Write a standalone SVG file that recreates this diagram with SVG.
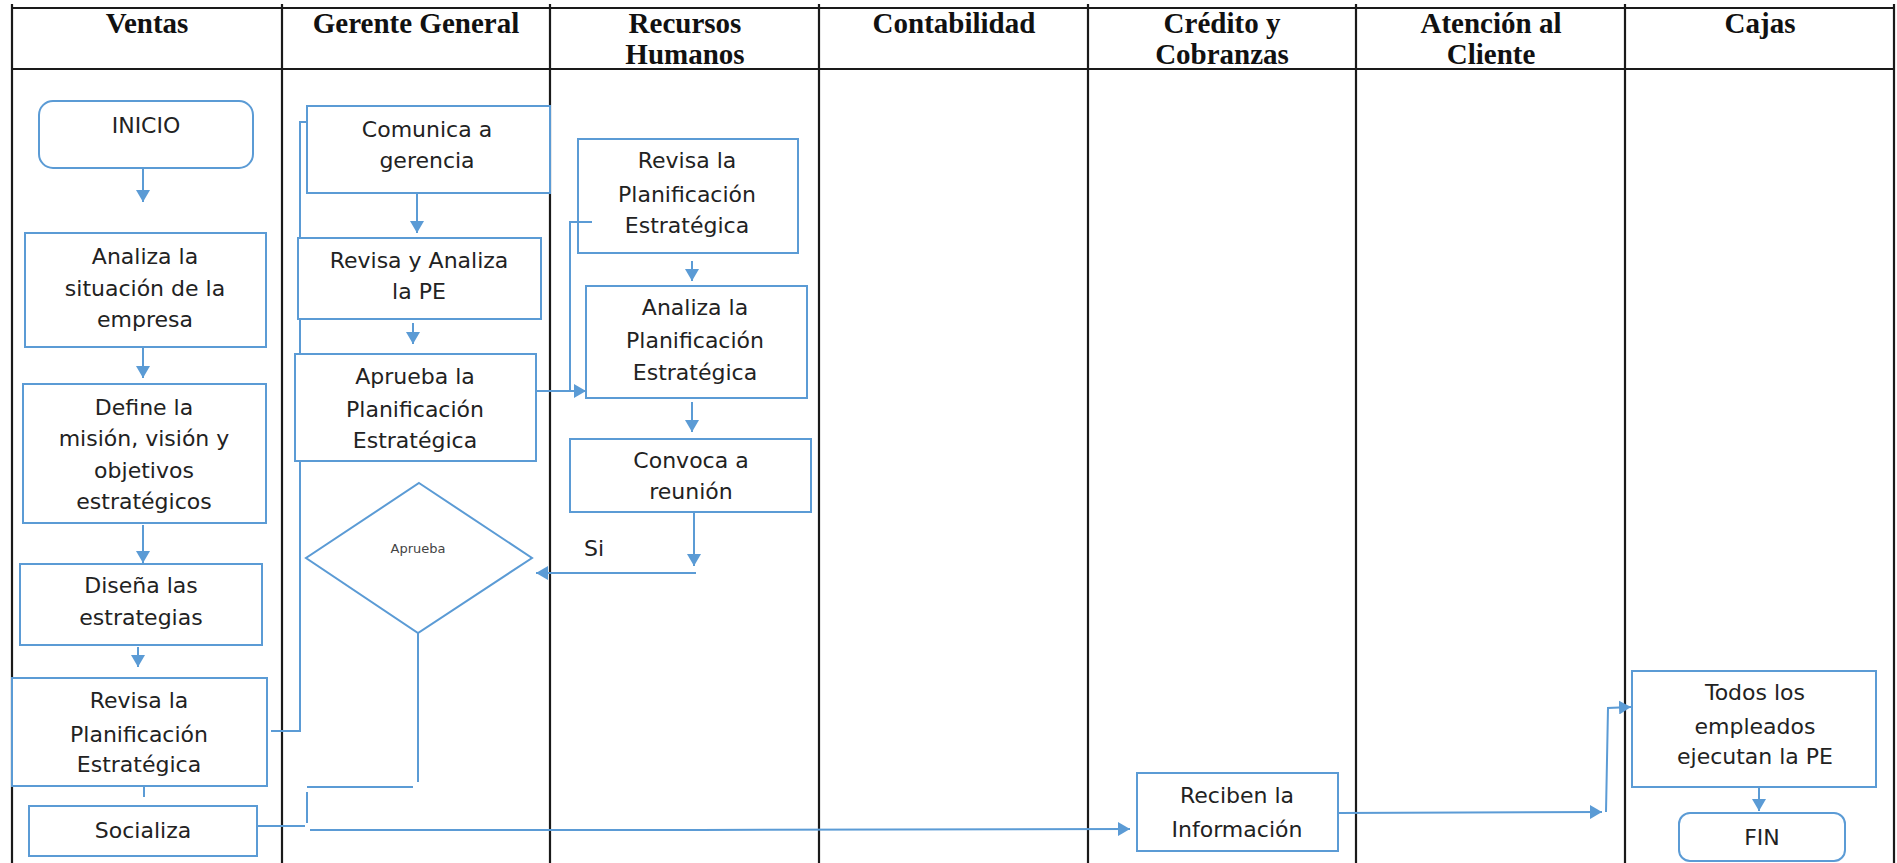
<svg xmlns="http://www.w3.org/2000/svg" width="1897" height="863" viewBox="0 0 1897 863">
  <style>
    .lane { stroke: #1a1a1a; stroke-width: 2.2; fill: none; }
    .hdr { font-family: "Liberation Serif", "Times New Roman", serif; font-weight: bold; font-size: 29px; fill: #111; text-anchor: middle; }
    .box { fill: #fff; stroke: #5B9BD5; stroke-width: 2; }
    .open { fill: none; stroke: #5B9BD5; stroke-width: 2; }
    .txt { font-family: "DejaVu Sans", Verdana, sans-serif; font-size: 22px; fill: #222; text-anchor: middle; }
    .small { font-family: "DejaVu Sans", Verdana, sans-serif; font-size: 13px; fill: #444; text-anchor: middle; }
    .con { fill: none; stroke: #5B9BD5; stroke-width: 2; }
    .arr { marker-end: url(#ah); }
  </style>
  <defs>
    <marker id="ah" markerUnits="userSpaceOnUse" markerWidth="12" markerHeight="14" refX="12" refY="7" orient="auto">
      <path d="M0,0 L12,7 L0,14 z" fill="#5B9BD5"/>
    </marker>
  </defs>

  <rect width="1897" height="863" fill="#fff"/>

  <!-- swimlane grid -->
  <g id="lanes">
    <line class="lane" x1="12" y1="8" x2="1894" y2="8"/>
    <line class="lane" x1="12" y1="69" x2="1894" y2="69"/>
    <line class="lane" x1="12" y1="4" x2="12" y2="863"/>
    <line class="lane" x1="282" y1="4" x2="282" y2="863"/>
    <line class="lane" x1="550" y1="4" x2="550" y2="863"/>
    <line class="lane" x1="819" y1="4" x2="819" y2="863"/>
    <line class="lane" x1="1088" y1="4" x2="1088" y2="863"/>
    <line class="lane" x1="1356" y1="4" x2="1356" y2="863"/>
    <line class="lane" x1="1625" y1="4" x2="1625" y2="863"/>
    <line class="lane" x1="1894" y1="4" x2="1894" y2="863"/>
  </g>

  <!-- lane titles -->
  <g id="headers">
    <text class="hdr" x="147" y="33">Ventas</text>
    <text class="hdr" x="416" y="33">Gerente General</text>
    <text class="hdr" x="685" y="33">Recursos</text>
    <text class="hdr" x="685" y="64">Humanos</text>
    <text class="hdr" x="954" y="33">Contabilidad</text>
    <text class="hdr" x="1222" y="33">Crédito y</text>
    <text class="hdr" x="1222" y="64">Cobranzas</text>
    <text class="hdr" x="1491" y="33">Atención al</text>
    <text class="hdr" x="1491" y="64">Cliente</text>
    <text class="hdr" x="1760" y="33">Cajas</text>
  </g>

  <!-- connectors -->
  <g id="connectors">
    <path class="con arr" d="M143,169 V202"/>
    <path class="con arr" d="M143,348 V378"/>
    <path class="con arr" d="M143,525 V563"/>
    <path class="con arr" d="M138,647 V667"/>
    <path class="con" d="M144,787 V797"/>
    <!-- Revisa (Ventas) up to Comunica -->
    <path class="con" d="M271,731 H300 V461"/>
    <path class="con" d="M300,354 V319"/>
    <path class="con" d="M300,238 V122 H307"/>
    <path class="con arr" d="M417,193 V233"/>
    <path class="con arr" d="M413,323 V344"/>
    <!-- Aprueba to Analiza, with branch from Revisa (RH) -->
    <path class="con arr" d="M536,391 H586"/>
    <path class="con" d="M592,222 H570 V392"/>
    <path class="con arr" d="M692,261 V281"/>
    <path class="con arr" d="M692,402 V432"/>
    <path class="con arr" d="M694,513 V566"/>
    <path class="con arr" d="M696,573 H536"/>
    <!-- from decision down to Socializa line -->
    <path class="con" d="M418,633 V782"/>
    <path class="con" d="M307,787 H413"/>
    <path class="con" d="M307,792 V823"/>
    <path class="con" d="M257,826 H305"/>
    <path class="con arr" d="M310,830 L700,830 L1130,829"/>
    <!-- Reciben to Todos -->
    <path class="con arr" d="M1338,813 L1602,812"/>
    <path class="con arr" d="M1606,812 L1608,708 L1631,707"/>
    <path class="con arr" d="M1759,788 V811"/>
  </g>

  <!-- Ventas -->
  <g id="inicio">
    <rect class="box" x="39" y="101" width="214" height="67" rx="14"/>
    <text class="txt" x="146" y="133">INICIO</text>
  </g>
  <g id="analiza-situacion">
    <rect class="box" x="25" y="233" width="241" height="114"/>
    <text class="txt" x="145" y="264">Analiza la</text>
    <text class="txt" x="145" y="296">situación de la</text>
    <text class="txt" x="145" y="327">empresa</text>
  </g>
  <g id="define-mision">
    <rect class="box" x="23" y="384" width="243" height="139"/>
    <text class="txt" x="144" y="415">Define la</text>
    <text class="txt" x="144" y="446">misión, visión y</text>
    <text class="txt" x="144" y="478">objetivos</text>
    <text class="txt" x="144" y="509">estratégicos</text>
  </g>
  <g id="disena-estrategias">
    <rect class="box" x="20" y="564" width="242" height="81"/>
    <text class="txt" x="141" y="593">Diseña las</text>
    <text class="txt" x="141" y="625">estrategias</text>
  </g>
  <g id="revisa-ventas">
    <rect class="box" x="12" y="678" width="255" height="108"/>
    <text class="txt" x="139" y="708">Revisa la</text>
    <text class="txt" x="139" y="742">Planificación</text>
    <text class="txt" x="139" y="772">Estratégica</text>
  </g>
  <g id="socializa">
    <rect class="box" x="29" y="806" width="228" height="50"/>
    <text class="txt" x="143" y="838">Socializa</text>
  </g>

  <!-- Gerente General -->
  <g id="comunica">
    <rect class="box" x="307" y="106" width="243" height="87"/>
    <text class="txt" x="427" y="137">Comunica a</text>
    <text class="txt" x="427" y="168">gerencia</text>
  </g>
  <g id="revisa-analiza">
    <rect class="box" x="298" y="238" width="243" height="81"/>
    <text class="txt" x="419" y="268">Revisa y Analiza</text>
    <text class="txt" x="419" y="299">la PE</text>
  </g>
  <g id="aprueba-plan">
    <rect class="box" x="295" y="354" width="241" height="107"/>
    <text class="txt" x="415" y="384">Aprueba la</text>
    <text class="txt" x="415" y="417">Planificación</text>
    <text class="txt" x="415" y="448">Estratégica</text>
  </g>
  <g id="decision-aprueba">
    <polygon class="box" points="419,483 532,558 418,633 306,558"/>
    <text class="small" x="418" y="553">Aprueba</text>
  </g>

  <!-- Recursos Humanos -->
  <g id="revisa-rh">
    <rect class="open" x="578" y="139" width="220" height="114"/>
    <text class="txt" x="687" y="168">Revisa la</text>
    <text class="txt" x="687" y="202">Planificación</text>
    <text class="txt" x="687" y="233">Estratégica</text>
  </g>
  <g id="analiza-rh">
    <rect class="box" x="586" y="286" width="221" height="112"/>
    <text class="txt" x="695" y="315">Analiza la</text>
    <text class="txt" x="695" y="348">Planificación</text>
    <text class="txt" x="695" y="380">Estratégica</text>
  </g>
  <g id="convoca">
    <rect class="box" x="570" y="439" width="241" height="73"/>
    <text class="txt" x="691" y="468">Convoca a</text>
    <text class="txt" x="691" y="499">reunión</text>
  </g>
  <g id="label-si">
    <text class="txt" x="594" y="556">Si</text>
  </g>

  <!-- Crédito y Cobranzas -->
  <g id="reciben">
    <rect class="box" x="1137" y="773" width="201" height="78"/>
    <text class="txt" x="1237" y="803">Reciben la</text>
    <text class="txt" x="1237" y="837">Información</text>
  </g>

  <!-- Cajas -->
  <g id="todos-ejecutan">
    <rect class="box" x="1632" y="671" width="244" height="116"/>
    <text class="txt" x="1755" y="700">Todos los</text>
    <text class="txt" x="1755" y="734">empleados</text>
    <text class="txt" x="1755" y="764">ejecutan la PE</text>
  </g>
  <g id="fin">
    <rect class="box" x="1679" y="813" width="166" height="48" rx="11"/>
    <text class="txt" x="1762" y="845">FIN</text>
  </g>
</svg>
